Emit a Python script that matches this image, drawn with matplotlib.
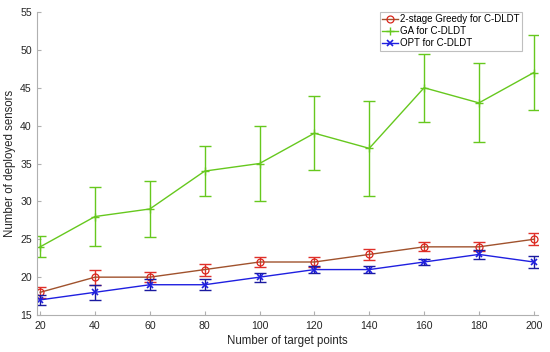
import matplotlib
matplotlib.use('Agg')
import matplotlib.pyplot as plt

plt.rcParams['font.family'] = ['Liberation Sans', 'DejaVu Sans']

targets = [20, 40, 60, 80, 100, 120, 140, 160, 180, 200]

greedy = [18, 20, 20, 21, 22, 22, 23, 24, 24, 25]
greedy_err = [0.7, 1.0, 0.7, 0.8, 0.6, 0.6, 0.7, 0.6, 0.6, 0.8]

ga = [24, 28, 29, 34, 35, 39, 37, 45, 43, 47]
ga_err = [1.4, 3.9, 3.7, 3.3, 4.9, 4.9, 6.3, 4.5, 5.2, 5.0]

opt = [17, 18, 19, 19, 20, 21, 21, 22, 23, 22]
opt_err = [0.7, 1.0, 0.7, 0.7, 0.6, 0.5, 0.5, 0.4, 0.6, 0.8]

labels = ['2-stage Greedy for C-DLDT', 'GA for C-DLDT', 'OPT for C-DLDT']

fig = plt.figure(figsize=(5.5, 3.52), dpi=100)
ax = fig.add_axes([0.068, 0.105, 0.91, 0.861])

# error bars first, lines on top
ax.errorbar(targets, greedy, yerr=greedy_err, fmt='none', ecolor='#e0302a',
            elinewidth=1, capsize=4, capthick=1)
ax.plot(targets, greedy, color='#a0522d', lw=1, marker='o', ms=5,
        mfc='none', mec='#d9261c', mew=0.9, label=labels[0])

ax.errorbar(targets, ga, yerr=ga_err, fmt='none', ecolor='#66c81e',
            elinewidth=1, capsize=4, capthick=1)
ax.plot(targets, ga, color='#66c81e', lw=1, marker='+', ms=6, mew=1,
        label=labels[1])

ax.errorbar(targets, opt, yerr=opt_err, fmt='none', ecolor='#1a1aa0',
            elinewidth=1, capsize=4, capthick=1)
ax.plot(targets, opt, color='#1f1fe0', lw=1, marker='x', ms=5, mew=1.2,
        mec='#1f1fe0', label=labels[2])

ax.set_xlim(19, 201.5)
ax.set_ylim(15, 55)
ax.set_xticks(targets)
ax.set_yticks(range(15, 56, 5))

for s in ['top', 'right']:
    ax.spines[s].set_visible(False)
for s in ['left', 'bottom']:
    ax.spines[s].set_color('#b0b0b0')
    ax.spines[s].set_linewidth(0.8)
ax.tick_params(direction='in', length=3, colors='#b0b0b0', labelcolor='#262626',
               labelsize=7.6, pad=4)

ax.set_xlabel('Number of target points', fontsize=8.3, color='#262626', labelpad=3)
ax.set_ylabel('Number of deployed sensors', fontsize=8.3, color='#262626', labelpad=3)

leg = ax.legend(loc='upper right', bbox_to_anchor=(0.968, 1.0), fontsize=7,
                frameon=True, fancybox=False, handlelength=1.7,
                handletextpad=0.15, borderpad=0.25, labelspacing=0.2,
                borderaxespad=0.0)
leg.get_frame().set_edgecolor('#b0b0b0')
leg.get_frame().set_linewidth(0.8)

fig.savefig('out.png', dpi=100)
